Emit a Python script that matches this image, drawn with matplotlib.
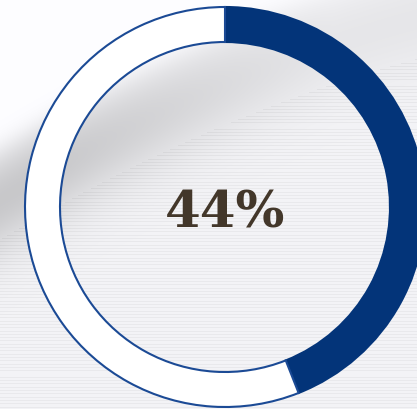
import numpy as np
import matplotlib
matplotlib.use("Agg")
import matplotlib.pyplot as plt

# ---------------- Data ----------------
labels = ["Done", "Remaining"]
values = [44, 56]
center_label = "44%"

ring_color = "#033479"
rest_color = "#ffffff"
edge_color = "#1b4a95"
text_color = "#43372a"

W, H = 417, 410

# ---------------- Background (soft grey swoosh) ----------------
yy, xx = np.mgrid[0:H, 0:W].astype(float)
curve = 200 - 0.6 * xx + 0.0004 * xx ** 2
dist = yy - curve
bg = np.full((H, W), 0.955)
# grey band, darker on the left
band = np.exp(-(dist / 55.0) ** 2)
bg -= 0.17 * band * np.clip(1.1 - xx / W, 0.3, 1)
# white above the swoosh
sky = 1 / (1 + np.exp((dist + 55) / 8))
bg = bg * (1 - sky) + 0.995 * sky
# faint horizontal streaks below it
bg -= 0.04 * (np.sin(yy * 1.9) > 0.6) * (dist > 40)
bg = np.clip(bg, 0, 1)
img = np.clip(np.dstack([bg, bg, bg * 1.012]), 0, 1)

fig = plt.figure(figsize=(W / 100, H / 100), dpi=100)
ax = fig.add_axes([0, 0, 1, 1])
ax.imshow(img, extent=(0, W, 0, H), origin="upper", zorder=0)

# ---------------- Donut ----------------
wedges, _ = ax.pie(
    values,
    colors=[ring_color, rest_color],
    startangle=90,
    counterclock=False,
    radius=200,
    center=(225, H - 208),
    wedgeprops=dict(width=35, edgecolor=edge_color, linewidth=1.5),
    frame=True,
)
wedges[0].set_edgecolor(ring_color)
for w in wedges:
    w.set_zorder(2)

ax.text(225, H - 214, center_label, ha="center", va="center",
        fontsize=37, fontweight="bold", family="DejaVu Serif",
        color=text_color, zorder=3)

ax.set_xlim(0, W)
ax.set_ylim(0, H)
ax.set_aspect("auto")
ax.axis("off")

fig.savefig("out.png", dpi=100)
